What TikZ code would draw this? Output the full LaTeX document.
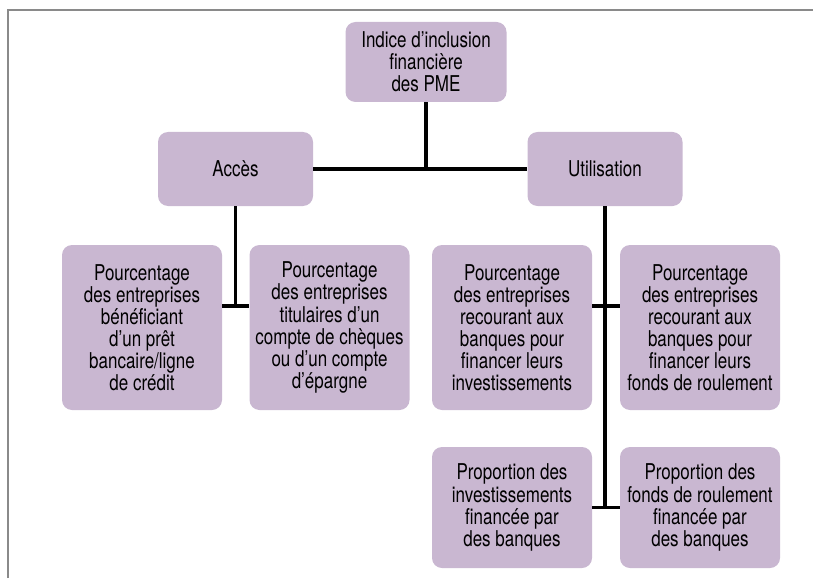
\documentclass[tikz,border=0pt]{standalone}
\usepackage{fontspec}
\setmainfont{TeX Gyre Heros}[FakeStretch=0.78]
\usetikzlibrary{calc}
\definecolor{mauve}{RGB}{201,183,209}
\definecolor{framegray}{RGB}{138,138,138}

\begin{document}
\begin{tikzpicture}[
  box/.style={rectangle, rounded corners=0.25cm, fill=mauve, align=center, text=black,
    font=\fontsize{15.5}{15.7}\selectfont, inner sep=0pt},
  link/.style={line width=2.2pt}]
\useasboundingbox (0,0) rectangle (20.325,14.45);

\draw[framegray, line width=1.4pt] (0.2,0) -- (0.2,14.2) -- (20.325,14.2); % frame

  \node[box, minimum width=4.025cm, minimum height=2cm] (indice) at (10.65,12.9) {Indice d’inclusion\\financière\\des PME};
  \node[box, minimum width=3.875cm, minimum height=1.85cm] (acces) at (5.8875,10.225) {Accès};
  \node[box, minimum width=3.875cm, minimum height=1.85cm] (util) at (15.125,10.225) {Utilisation};

  \node[box, minimum width=4cm, minimum height=4.125cm] (pret) at (3.55,6.2625) {Pourcentage\\des entreprises\\bénéficiant\\d’un prêt\\bancaire/ligne\\de crédit};
  \node[box, minimum width=4cm, minimum height=4.125cm] (compte) at (8.2375,6.2625) {Pourcentage\\des entreprises\\titulaires d’un\\compte de chèques\\ou d’un compte\\d’épargne};
  \node[box, minimum width=4cm, minimum height=4.125cm] (invest) at (12.8,6.2625) {Pourcentage\\des entreprises\\recourant aux\\banques pour\\financer leurs\\investissements};
  \node[box, minimum width=4cm, minimum height=4.125cm] (fonds) at (17.5,6.2625) {Pourcentage\\des entreprises\\recourant aux\\banques pour\\financer leurs\\fonds de roulement};

  \node[box, minimum width=4cm, minimum height=3.025cm] (propinv) at (12.8,1.7625) {Proportion des\\investissements\\financée par\\des banques};
  \node[box, minimum width=4cm, minimum height=3.025cm] (propfr) at (17.5,1.7625) {Proportion des\\fonds de roulement\\financée par\\des banques};

  \coordinate (top) at (10.65,10.225);
  \coordinate (jacces) at (5.8875,6.8);
  \coordinate (jutil) at (15.125,6.8);
  \coordinate (bottom) at (15.125,1.7625);

\draw[link] (indice) -- (top); % root
\draw[link] (acces) -- (util);
\draw[link] (acces) -- (jacces);
\draw[link] (pret.east |- jacces) -- (compte.west |- jacces);
\draw[link] (util) -- (bottom);
\draw[link] (invest.east |- jutil) -- (fonds.west |- jutil);
\draw[link] (propinv) -- (propfr);

\end{tikzpicture}
\end{document}
